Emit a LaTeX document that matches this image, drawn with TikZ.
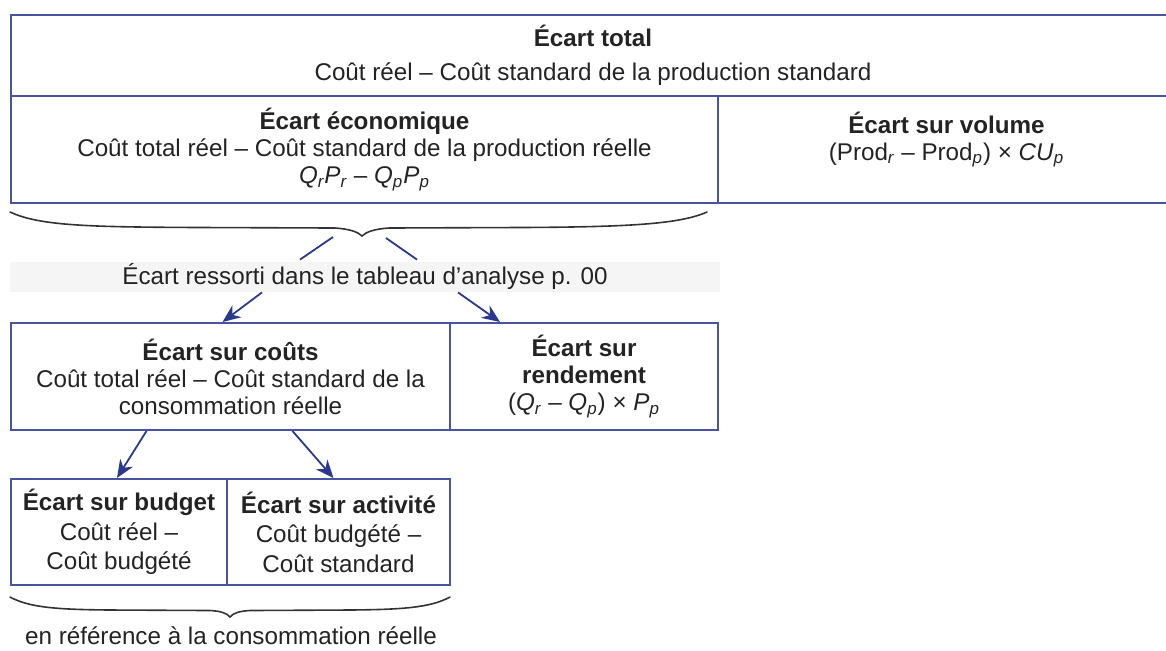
\documentclass[tikz,border=0pt]{standalone}
\usepackage{fontspec}
\setmainfont{Liberation Sans}
\usetikzlibrary{arrows.meta,calc}
\definecolor{boxblue}{RGB}{72,84,160}
\definecolor{arrowblue}{RGB}{42,56,142}
\definecolor{inkgrey}{RGB}{35,35,35}
\newcommand\ix[1]{\textsubscript{\itshape #1}}
\tikzset{
  cell/.style={draw=boxblue, line width=1pt, inner sep=0pt, align=center, text=inkgrey,
    font=\fontsize{12.1}{13.5}\selectfont},
  note/.style={inner sep=0pt, text=inkgrey, font=\fontsize{12.1}{13.5}\selectfont},
  link/.style={draw=arrowblue, line width=0.9pt},
  flow/.style={link, -{Stealth[length=9pt,width=7.5pt]}},
  bracepath/.style={draw=black!80, line width=0.8pt, line cap=round},
}
\begin{document}
\begin{tikzpicture}[x=0.5pt, y=-0.5pt]
  \useasboundingbox (0,0) rectangle (1166,650);
  % upper table
  \node[cell, minimum width=582pt, minimum height=40.5pt, font=\fontsize{12.1}{17}\selectfont]
    (total) at (593,55.5)
    {\textbf{Écart total}\\ Coût réel – Coût standard de la production standard};
  \node[cell, minimum width=353.5pt, minimum height=53.5pt] (econ) at (364.5,149.5)
    {\textbf{Écart économique}\\ Coût total réel – Coût standard de la production réelle\\
     \textit{Q}\ix{r}\textit{P}\ix{r} – \textit{Q}\ix{p}\textit{P}\ix{p}};
  \node[cell, minimum width=228.5pt, minimum height=53.5pt] (volume) at (946.5,149.5)
    {\textbf{Écart sur volume}\\ (Prod\ix{r} – Prod\ix{p}) × \textit{CU}\ix{p}\\ \mbox{}};
  % first brace
  \draw[bracepath] (10,212) .. controls (40,226) and (90,227) .. (200,227.5)
    -- (335,228) .. controls (350,229) and (358,232) .. (362,236)
    .. controls (366,232) and (374,229) .. (389,228)
    -- (520,227.5) .. controls (630,227) and (680,224) .. (707,212);
  \coordinate (tipl) at (333,237);
  \coordinate (tipr) at (386,238);
  \node[note, fill=black!4, minimum width=355pt, minimum height=15pt] (ressorti) at (365,277)
    {Écart ressorti dans le tableau d’analyse p. 00};
  \draw[link] (tipl) -- ($(ressorti.north)+(-65,-2)$);
  \draw[link] (tipr) -- ($(ressorti.north)+(52,-2)$);
  % middle table
  \node[cell, minimum width=219.5pt, minimum height=53.5pt] (couts) at (230.5,376.5)
    {\textbf{Écart sur coûts}\\ Coût total réel – Coût standard de la\\ consommation réelle};
  \node[cell, minimum width=134pt, minimum height=53.5pt] (rendement) at (584,376.5)
    {\textbf{Écart sur}\\ \textbf{rendement}\\
     (\textit{Q}\ix{r} – \textit{Q}\ix{p}) × \textit{P}\ix{p}};
  \draw[flow] ($(ressorti.south)+(-103,0)$) -- ($(couts.north)+(-8,0)$);
  \draw[flow] ($(ressorti.south)+(93,0)$) -- ($(rendement.north)+(-84,0)$);
  % lower table
  \node[cell, minimum width=108pt, minimum height=53pt, font=\fontsize{12.1}{14.7}\selectfont]
    (budget) at (119,532)
    {\textbf{Écart sur budget}\\ Coût réel –\\ Coût budgété};
  \node[cell, minimum width=111.5pt, minimum height=53pt, font=\fontsize{12.1}{14.7}\selectfont]
    (activite) at (338.5,532)
    {\textbf{Écart sur activité}\\ Coût budgété –\\ Coût standard};
  \draw[flow] ($(couts.south)+(-84,0)$) -- ($(budget.north)+(-2,0)$);
  \draw[flow] ($(couts.south)+(62,0)$) -- ($(activite.north)+(-5,0)$);
  % second brace
  \draw[bracepath] (10,597) .. controls (30,608) and (60,609.5) .. (110,610)
    -- (210,610.5) .. controls (220,611) and (227,613) .. (230,617)
    .. controls (233,613) and (240,611) .. (250,610.5)
    -- (350,610) .. controls (400,609.5) and (430,608) .. (450,597);
  \node[note] (conso) at (231,636) {en référence à la consommation réelle};
\end{tikzpicture}
\end{document}
